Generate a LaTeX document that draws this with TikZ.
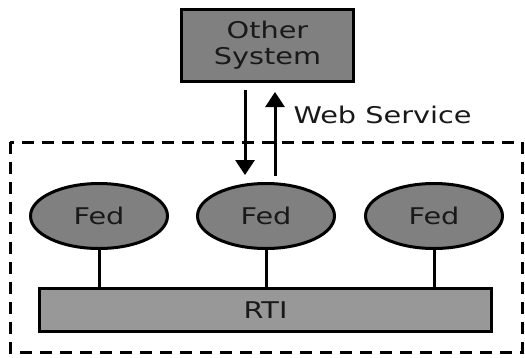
\documentclass[tikz,border=0pt]{standalone}
\usepackage{fontspec}
\setmainfont{DejaVu Sans}[FakeStretch=1.25]
\usetikzlibrary{arrows.meta,calc,shapes.geometric}
\definecolor{boxgray}{RGB}{128,128,128}
\definecolor{rtigray}{RGB}{152,152,152}
\definecolor{txt}{RGB}{25,25,25}
\tikzset{
  every node/.style={font=\fontsize{23}{26}\selectfont, text=txt},
  sysbox/.style={draw=black, line width=3pt, fill=boxgray, minimum width=172pt, minimum height=72pt, inner sep=0pt, align=center},
  fedell/.style={ellipse, draw=black, line width=3pt, fill=boxgray, minimum width=137pt, minimum height=65pt, inner sep=0pt},
  rtibox/.style={draw=black, line width=3pt, fill=rtigray, minimum width=452pt, minimum height=43pt, inner sep=0pt},
  conn/.style={line width=3pt},
  arr/.style={line width=3pt, -{Triangle[length=15pt,width=19pt]}},
  frame/.style={line width=3pt, dash pattern=on 12pt off 8pt}
}
\begin{document}
\begin{tikzpicture}[x=1pt,y=-1pt]
\useasboundingbox (0,0) rectangle (525,357);
\draw[frame] (10,142) rectangle (522,352);
\node[sysbox] (os) at (267.5,45.5) {Other\\System};
\node[fedell] (f1) at (99,216) {Fed};
\node[fedell] (f2) at (266,216) {Fed};
\node[fedell] (f3) at (434,216) {Fed};
\node[rtibox] (rti) at (265.5,310) {RTI};
\coordinate (dtop) at (245,90);
\coordinate (dbot) at (245,175);
\coordinate (utop) at (275,92);
\coordinate (ubot) at (275,176);
\draw[arr] (dtop) -- (dbot);
\draw[arr] (ubot) -- (utop);
\node[anchor=base west] (ws) at (290,123) {Web Service};
\draw[conn] (f1.south) -- (f1.south |- rti.north);
\draw[conn] (f2.south) -- (f2.south |- rti.north);
\draw[conn] (f3.south) -- (f3.south |- rti.north);
\end{tikzpicture}
\end{document}
